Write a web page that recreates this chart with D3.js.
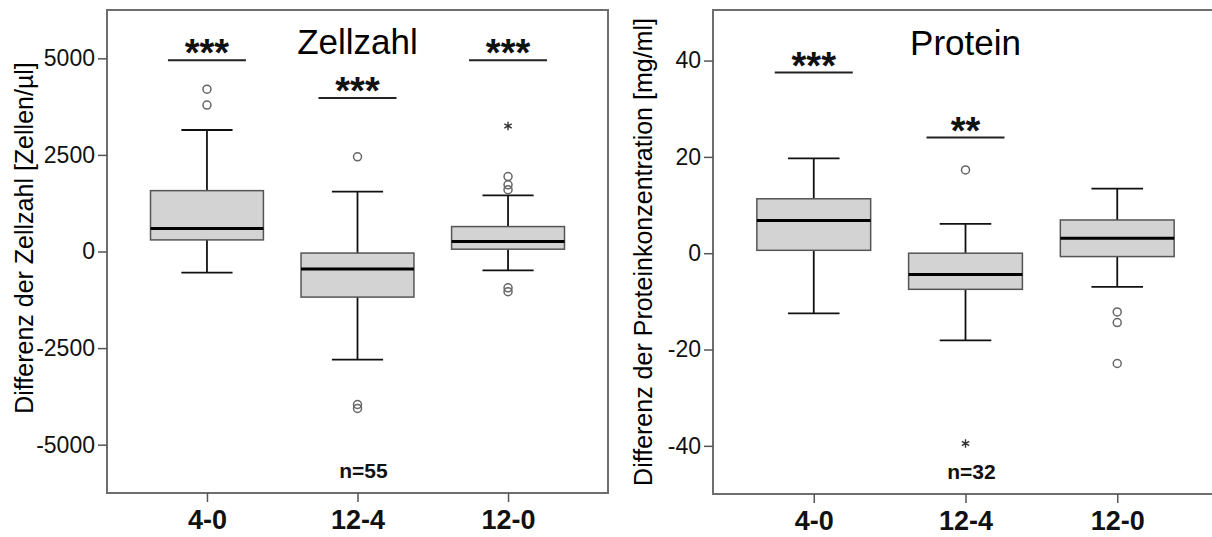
<!DOCTYPE html>
<html><head><meta charset="utf-8">
<script src="https://cdn.jsdelivr.net/npm/d3@7"></script>
<style>
html,body{margin:0;padding:0;background:#fff;}
svg{display:block;font-family:"Liberation Sans",Arial,sans-serif;}
</style></head><body>
<svg id="chart" width="1212" height="537"></svg>
<script>
// ---------- data ----------
const categories = ["4-0", "12-4", "12-0"];

// Zellzahl (cells/µl)
const cellTicks = [-5000, -2500, 0, 2500, 5000];
const cellQ1 = [300, -1180, 60];
const cellMedian = [595, -450, 260];
const cellQ3 = [1575, -40, 645];
const cellWhiskerLow = [-545, -2800, -490];
const cellWhiskerHigh = [3145, 1550, 1450];
const cellOutliers = [[4200, 3790], [2450, -3960, -4060], [1940, 1725, 1600, -940, -1040]];
const cellExtremes = [[], [], [3250]];
const cellSigCats = ["4-0", "12-4", "12-0"];
const cellSigLevels = [4950, 3970, 4950];
const cellSigLabels = ["***", "***", "***"];

// Protein (mg/ml)
const protTicks = [-40, -20, 0, 20, 40];
const protQ1 = [0.6, -7.5, -0.7];
const protMedian = [6.8, -4.4, 3.1];
const protQ3 = [11.3, 0.0, 6.9];
const protWhiskerLow = [-12.5, -18.1, -7.0];
const protWhiskerHigh = [19.7, 6.1, 13.4];
const protOutliers = [[], [17.3], [-12.2, -14.4, -22.9]];
const protExtremes = [[], [-39.5], []];
const protSigCats = ["4-0", "12-4"];
const protSigLevels = [37.5, 24.0];
const protSigLabels = ["***", "**"];

const panels = [
  {title: "Zellzahl", yLabel: "Differenz der Zellzahl [Zellen/µl]", n: "n=55",
   left: 107, right: 608, top: 10, bottom: 493, domain: [-6250, 6250], ticks: cellTicks,
   q1: cellQ1, med: cellMedian, q3: cellQ3, wLo: cellWhiskerLow, wHi: cellWhiskerHigh,
   out: cellOutliers, ext: cellExtremes, sigCats: cellSigCats, sigLevels: cellSigLevels, sigLabels: cellSigLabels,
   titleY: 54, labelX: 33, labelY: 238},
  {title: "Protein", yLabel: "Differenz der Proteinkonzentration [mg/ml]", n: "n=32",
   left: 713, right: 1218, top: 10, bottom: 494, domain: [-50, 50.5], ticks: protTicks,
   q1: protQ1, med: protMedian, q3: protQ3, wLo: protWhiskerLow, wHi: protWhiskerHigh,
   out: protOutliers, ext: protExtremes, sigCats: protSigCats, sigLevels: protSigLevels, sigLabels: protSigLabels,
   titleY: 55, labelX: 652, labelY: 252}
];

const svg = d3.select("#chart");

function drawPanel(p) {
  const g = svg.append("g");
  const x = d3.scalePoint().domain(categories).range([p.left, p.right]).padding(0.664);
  const y = d3.scaleLinear().domain(p.domain).range([p.bottom, p.top]);
  const step = x.step();
  const bw = step * 0.75;
  const cap = step * 0.17;

  g.append("rect").attr("x", p.left).attr("y", p.top)
    .attr("width", p.right - p.left).attr("height", p.bottom - p.top)
    .attr("fill", "#fff").attr("stroke", "#6e6e6e").attr("stroke-width", 2);

  const ya = g.append("g").attr("transform", `translate(${p.left},0)`)
    .call(d3.axisLeft(y).tickValues(p.ticks).tickSize(9).tickPadding(3).tickSizeOuter(0).tickFormat(d => String(d)));
  ya.select(".domain").remove();
  ya.selectAll(".tick line").attr("stroke", "#555").attr("stroke-width", 1.5);
  ya.selectAll(".tick text").attr("font-size", 23).attr("fill", "#111")
    .attr("font-family", "Liberation Sans, Arial, sans-serif");

  const xa = g.append("g").attr("transform", `translate(0,${p.bottom})`)
    .call(d3.axisBottom(x).tickSize(9).tickPadding(8).tickSizeOuter(0));
  xa.select(".domain").remove();
  xa.selectAll(".tick line").attr("stroke", "#555").attr("stroke-width", 1.5);
  xa.selectAll(".tick text").attr("font-size", 27).attr("font-weight", "bold").attr("fill", "#111")
    .attr("font-family", "Liberation Sans, Arial, sans-serif");

  categories.forEach((c, i) => {
    const cx = x(c);
    const bg = g.append("g");
    bg.append("line").attr("x1", cx).attr("x2", cx).attr("y1", y(p.wLo[i])).attr("y2", y(p.wHi[i]))
      .attr("stroke", "#111").attr("stroke-width", 1.8);
    [p.wLo[i], p.wHi[i]].forEach(v => {
      bg.append("line").attr("x1", cx - cap).attr("x2", cx + cap).attr("y1", y(v)).attr("y2", y(v))
        .attr("stroke", "#111").attr("stroke-width", 1.8);
    });
    bg.append("rect").attr("x", cx - bw / 2).attr("width", bw)
      .attr("y", y(p.q3[i])).attr("height", y(p.q1[i]) - y(p.q3[i]))
      .attr("fill", "#d3d3d3").attr("stroke", "#555").attr("stroke-width", 1.5);
    bg.append("line").attr("x1", cx - bw / 2).attr("x2", cx + bw / 2).attr("y1", y(p.med[i])).attr("y2", y(p.med[i]))
      .attr("stroke", "#000").attr("stroke-width", 3);
    bg.selectAll("circle.o").data(p.out[i]).join("circle").attr("class", "o")
      .attr("cx", cx).attr("cy", d => y(d)).attr("r", 4)
      .attr("fill", "none").attr("stroke", "#666").attr("stroke-width", 1.5);
    const sym = d3.symbol().type(d3.symbolAsterisk || d3.symbolCross).size(50);
    bg.selectAll("path.e").data(p.ext[i]).join("path").attr("class", "e")
      .attr("transform", d => `translate(${cx},${y(d)})`).attr("d", sym)
      .attr("fill", "none").attr("stroke", "#333").attr("stroke-width", 1.4);
  });

  p.sigCats.forEach((c, i) => {
    const cx = x(c), ly = y(p.sigLevels[i]);
    g.append("line").attr("x1", cx - 39).attr("x2", cx + 39).attr("y1", ly).attr("y2", ly)
      .attr("stroke", "#222").attr("stroke-width", 2);
    g.append("text").attr("x", cx).attr("y", ly + 6).attr("text-anchor", "middle")
      .attr("font-size", 38).attr("font-weight", "bold").attr("fill", "#111").text(p.sigLabels[i]);
  });

  g.append("text").attr("x", x(categories[1])).attr("y", p.titleY).attr("text-anchor", "middle")
    .attr("font-size", 35).attr("fill", "#000").text(p.title);
  g.append("text").attr("x", x(categories[1]) + 6).attr("y", p.bottom - 15).attr("text-anchor", "middle")
    .attr("font-size", 21).attr("font-weight", "bold").attr("fill", "#111").text(p.n);
  g.append("text").attr("transform", `translate(${p.labelX},${p.labelY}) rotate(-90)`)
    .attr("text-anchor", "middle").attr("font-size", 25).attr("fill", "#000").text(p.yLabel);
}

panels.forEach(drawPanel);
</script>
</body></html>
